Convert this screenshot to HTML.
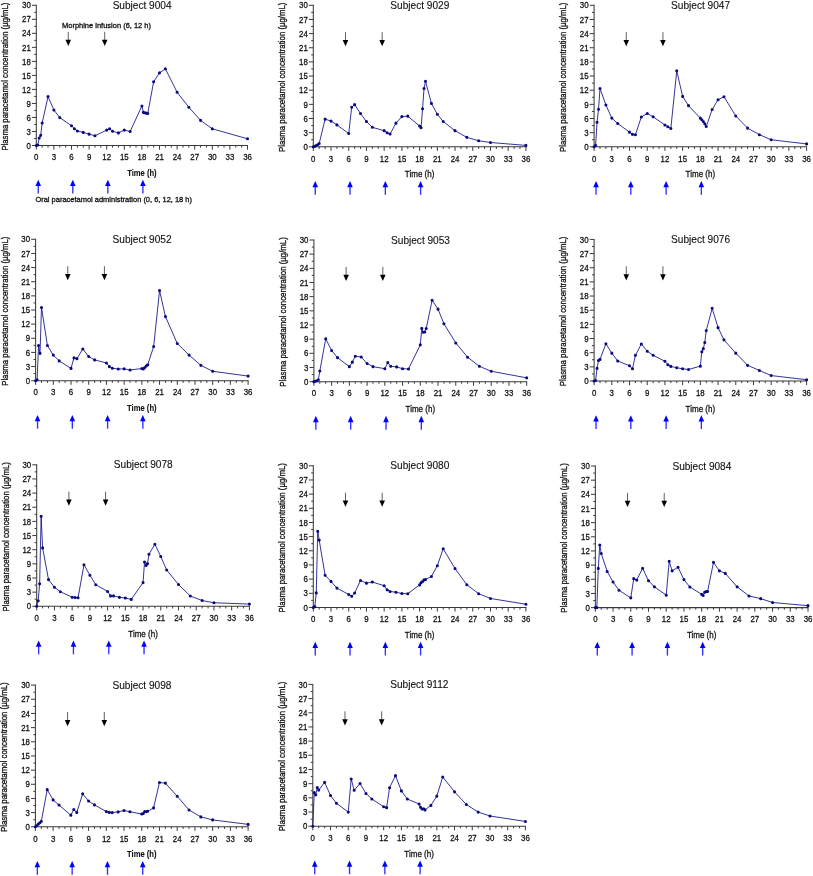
<!DOCTYPE html>
<html><head><meta charset="utf-8"><title>Plasma paracetamol concentration</title>
<style>
html,body{margin:0;padding:0;background:#fff;}
body{width:813px;height:876px;overflow:hidden;}
svg{display:block;will-change:transform;}
text{font-family:"Liberation Sans",sans-serif;fill:#111;stroke:#111;stroke-width:0.22px;}
.tk{font-size:9.6px;stroke-width:0.3px;}
.tm{font-size:9.7px;stroke-width:0.3px;}
.tb{font-weight:bold;stroke-width:0.1px;}
.ti{font-size:10.1px;stroke-width:0.12px;}
.yl{font-size:8.9px;stroke-width:0.3px;}
.an{font-size:7.5px;stroke-width:0.3px;}
</style></head><body>
<svg width="813" height="876" viewBox="0 0 813 876">
<rect width="813" height="876" fill="#fff"/>
<g>
<path d="M36.3 4.8V145.5H248" fill="none" stroke="#3a3a3a" stroke-width="1.05"/>
<path d="M36.3 145.5v4.1M42.17 145.5v2.1M48.03 145.5v2.1M53.9 145.5v4.1M59.77 145.5v2.1M65.63 145.5v2.1M71.5 145.5v4.1M77.37 145.5v2.1M83.23 145.5v2.1M89.1 145.5v4.1M94.97 145.5v2.1M100.83 145.5v2.1M106.7 145.5v4.1M112.57 145.5v2.1M118.43 145.5v2.1M124.3 145.5v4.1M130.17 145.5v2.1M136.03 145.5v2.1M141.9 145.5v4.1M147.77 145.5v2.1M153.63 145.5v2.1M159.5 145.5v4.1M165.37 145.5v2.1M171.23 145.5v2.1M177.1 145.5v4.1M182.97 145.5v2.1M188.83 145.5v2.1M194.7 145.5v4.1M200.57 145.5v2.1M206.43 145.5v2.1M212.3 145.5v4.1M218.17 145.5v2.1M224.03 145.5v2.1M229.9 145.5v4.1M235.77 145.5v2.1M241.63 145.5v2.1M247.5 145.5v4.1M36.3 145.5h-4.4M36.3 138.49h-2.1M36.3 131.48h-4.4M36.3 124.47h-2.1M36.3 117.46h-4.4M36.3 110.45h-2.1M36.3 103.44h-4.4M36.3 96.43h-2.1M36.3 89.42h-4.4M36.3 82.41h-2.1M36.3 75.4h-4.4M36.3 68.39h-2.1M36.3 61.38h-4.4M36.3 54.37h-2.1M36.3 47.36h-4.4M36.3 40.35h-2.1M36.3 33.34h-4.4M36.3 26.33h-2.1M36.3 19.32h-4.4M36.3 12.31h-2.1M36.3 5.3h-4.4" fill="none" stroke="#3a3a3a" stroke-width="1"/>
<text class="tk" text-anchor="end" transform="translate(30.8 148.65) scale(.82 1)">0</text>
<text class="tk" text-anchor="end" transform="translate(30.8 134.63) scale(.82 1)">3</text>
<text class="tk" text-anchor="end" transform="translate(30.8 120.61) scale(.82 1)">6</text>
<text class="tk" text-anchor="end" transform="translate(30.8 106.59) scale(.82 1)">9</text>
<text class="tk" text-anchor="end" transform="translate(30.8 92.57) scale(.82 1)">12</text>
<text class="tk" text-anchor="end" transform="translate(30.8 78.55) scale(.82 1)">15</text>
<text class="tk" text-anchor="end" transform="translate(30.8 64.53) scale(.82 1)">18</text>
<text class="tk" text-anchor="end" transform="translate(30.8 50.51) scale(.82 1)">21</text>
<text class="tk" text-anchor="end" transform="translate(30.8 36.49) scale(.82 1)">24</text>
<text class="tk" text-anchor="end" transform="translate(30.8 22.47) scale(.82 1)">27</text>
<text class="tk" text-anchor="end" transform="translate(30.8 8.45) scale(.82 1)">30</text>
<text class="tk" text-anchor="middle" transform="translate(36.3 160.2) scale(.82 1)">0</text>
<text class="tk" text-anchor="middle" transform="translate(53.9 160.2) scale(.82 1)">3</text>
<text class="tk" text-anchor="middle" transform="translate(71.5 160.2) scale(.82 1)">6</text>
<text class="tk" text-anchor="middle" transform="translate(89.1 160.2) scale(.82 1)">9</text>
<text class="tk" text-anchor="middle" transform="translate(106.7 160.2) scale(.82 1)">12</text>
<text class="tk" text-anchor="middle" transform="translate(124.3 160.2) scale(.82 1)">15</text>
<text class="tk" text-anchor="middle" transform="translate(141.9 160.2) scale(.82 1)">18</text>
<text class="tk" text-anchor="middle" transform="translate(159.5 160.2) scale(.82 1)">21</text>
<text class="tk" text-anchor="middle" transform="translate(177.1 160.2) scale(.82 1)">24</text>
<text class="tk" text-anchor="middle" transform="translate(194.7 160.2) scale(.82 1)">27</text>
<text class="tk" text-anchor="middle" transform="translate(212.3 160.2) scale(.82 1)">30</text>
<text class="tk" text-anchor="middle" transform="translate(229.9 160.2) scale(.82 1)">33</text>
<text class="tk" text-anchor="middle" transform="translate(247.5 160.2) scale(.82 1)">36</text>
<text class="tm tb" text-anchor="middle" x="141.9" y="176" textLength="29.5" lengthAdjust="spacingAndGlyphs">Time (h)</text>
<text class="ti" text-anchor="middle" x="142.1" y="8.9">Subject 9004</text>
<text class="yl" text-anchor="middle" transform="translate(8.3 76.6) rotate(-90)" textLength="148" lengthAdjust="spacingAndGlyphs">Plasma paracetamol concentration (µg/mL)</text>
<path d="M68.27 31.93V41.89" stroke="#444" stroke-width="0.85" fill="none"/>
<path d="M65.47 39.69L71.07 39.69L68.27 45.89Z" fill="#000"/>
<path d="M104.71 31.93V41.89" stroke="#444" stroke-width="0.85" fill="none"/>
<path d="M101.91 39.69L107.51 39.69L104.71 45.89Z" fill="#000"/>
<path d="M38.24 183.7V193.5" stroke="#3030ff" stroke-width="1.35" fill="none"/>
<path d="M35.44 186L41.04 186L38.24 179.7Z" fill="#0000ff"/>
<path d="M72.79 183.7V193.5" stroke="#3030ff" stroke-width="1.35" fill="none"/>
<path d="M69.99 186L75.59 186L72.79 179.7Z" fill="#0000ff"/>
<path d="M107.87 183.7V193.5" stroke="#3030ff" stroke-width="1.35" fill="none"/>
<path d="M105.07 186L110.67 186L107.87 179.7Z" fill="#0000ff"/>
<path d="M142.9 183.7V193.5" stroke="#3030ff" stroke-width="1.35" fill="none"/>
<path d="M140.1 186L145.7 186L142.9 179.7Z" fill="#0000ff"/>
<text class="an" x="62" y="27.6" textLength="89" lengthAdjust="spacingAndGlyphs">Morphine infusion (6, 12 h)</text>
<text class="an" x="35.4" y="201.5" textLength="156.6" lengthAdjust="spacingAndGlyphs">Oral paracetamol administration (0, 6, 12, 18 h)</text>
<polyline points="36.3,145.5 37.77,145.03 39.23,137.93 40.7,135.36 42.17,123.07 48.03,96.57 53.9,109.98 59.77,117.6 71.5,125.73 74.43,128.68 77.37,131.01 83.23,132.41 89.1,134.14 94.97,135.73 106.7,130.08 109.63,128.82 112.57,131.29 118.43,132.88 124.3,130.08 130.17,131.48 141.9,105.96 143.37,112.37 144.83,112.79 146.3,113.16 147.77,113.49 153.63,81.8 159.5,72.83 165.37,68.86 177.1,92.22 188.83,107.23 200.57,120.36 212.3,128.86 247.5,138.77" fill="none" stroke="#0f0f85" stroke-width="0.85" stroke-linejoin="round"/>
<path d="M36.3 145.5h0M37.77 145.03h0M39.23 137.93h0M40.7 135.36h0M42.17 123.07h0M48.03 96.57h0M53.9 109.98h0M59.77 117.6h0M71.5 125.73h0M74.43 128.68h0M77.37 131.01h0M83.23 132.41h0M89.1 134.14h0M94.97 135.73h0M106.7 130.08h0M109.63 128.82h0M112.57 131.29h0M118.43 132.88h0M124.3 130.08h0M130.17 131.48h0M141.9 105.96h0M143.37 112.37h0M144.83 112.79h0M146.3 113.16h0M147.77 113.49h0M153.63 81.8h0M159.5 72.83h0M165.37 68.86h0M177.1 92.22h0M188.83 107.23h0M200.57 120.36h0M212.3 128.86h0M247.5 138.77h0" fill="none" stroke="#0a0a80" stroke-width="3.1" stroke-linecap="round"/>
</g>
<g>
<path d="M313.3 4.8V146.8H526.4" fill="none" stroke="#3a3a3a" stroke-width="1.05"/>
<path d="M313.3 146.8v4.1M319.21 146.8v2.1M325.11 146.8v2.1M331.02 146.8v4.1M336.92 146.8v2.1M342.83 146.8v2.1M348.73 146.8v4.1M354.64 146.8v2.1M360.54 146.8v2.1M366.45 146.8v4.1M372.36 146.8v2.1M378.26 146.8v2.1M384.17 146.8v4.1M390.07 146.8v2.1M395.98 146.8v2.1M401.88 146.8v4.1M407.79 146.8v2.1M413.69 146.8v2.1M419.6 146.8v4.1M425.51 146.8v2.1M431.41 146.8v2.1M437.32 146.8v4.1M443.22 146.8v2.1M449.13 146.8v2.1M455.03 146.8v4.1M460.94 146.8v2.1M466.84 146.8v2.1M472.75 146.8v4.1M478.66 146.8v2.1M484.56 146.8v2.1M490.47 146.8v4.1M496.37 146.8v2.1M502.28 146.8v2.1M508.18 146.8v4.1M514.09 146.8v2.1M519.99 146.8v2.1M525.9 146.8v4.1M313.3 146.8h-4.4M313.3 139.73h-2.1M313.3 132.65h-4.4M313.3 125.58h-2.1M313.3 118.5h-4.4M313.3 111.43h-2.1M313.3 104.35h-4.4M313.3 97.28h-2.1M313.3 90.2h-4.4M313.3 83.12h-2.1M313.3 76.05h-4.4M313.3 68.98h-2.1M313.3 61.9h-4.4M313.3 54.83h-2.1M313.3 47.75h-4.4M313.3 40.68h-2.1M313.3 33.6h-4.4M313.3 26.53h-2.1M313.3 19.45h-4.4M313.3 12.38h-2.1M313.3 5.3h-4.4" fill="none" stroke="#3a3a3a" stroke-width="1"/>
<text class="tk" text-anchor="end" transform="translate(307.8 149.95) scale(.82 1)">0</text>
<text class="tk" text-anchor="end" transform="translate(307.8 135.8) scale(.82 1)">3</text>
<text class="tk" text-anchor="end" transform="translate(307.8 121.65) scale(.82 1)">6</text>
<text class="tk" text-anchor="end" transform="translate(307.8 107.5) scale(.82 1)">9</text>
<text class="tk" text-anchor="end" transform="translate(307.8 93.35) scale(.82 1)">12</text>
<text class="tk" text-anchor="end" transform="translate(307.8 79.2) scale(.82 1)">15</text>
<text class="tk" text-anchor="end" transform="translate(307.8 65.05) scale(.82 1)">18</text>
<text class="tk" text-anchor="end" transform="translate(307.8 50.9) scale(.82 1)">21</text>
<text class="tk" text-anchor="end" transform="translate(307.8 36.75) scale(.82 1)">24</text>
<text class="tk" text-anchor="end" transform="translate(307.8 22.6) scale(.82 1)">27</text>
<text class="tk" text-anchor="end" transform="translate(307.8 8.45) scale(.82 1)">30</text>
<text class="tk" text-anchor="middle" transform="translate(313.3 161.5) scale(.82 1)">0</text>
<text class="tk" text-anchor="middle" transform="translate(331.02 161.5) scale(.82 1)">3</text>
<text class="tk" text-anchor="middle" transform="translate(348.73 161.5) scale(.82 1)">6</text>
<text class="tk" text-anchor="middle" transform="translate(366.45 161.5) scale(.82 1)">9</text>
<text class="tk" text-anchor="middle" transform="translate(384.17 161.5) scale(.82 1)">12</text>
<text class="tk" text-anchor="middle" transform="translate(401.88 161.5) scale(.82 1)">15</text>
<text class="tk" text-anchor="middle" transform="translate(419.6 161.5) scale(.82 1)">18</text>
<text class="tk" text-anchor="middle" transform="translate(437.32 161.5) scale(.82 1)">21</text>
<text class="tk" text-anchor="middle" transform="translate(455.03 161.5) scale(.82 1)">24</text>
<text class="tk" text-anchor="middle" transform="translate(472.75 161.5) scale(.82 1)">27</text>
<text class="tk" text-anchor="middle" transform="translate(490.47 161.5) scale(.82 1)">30</text>
<text class="tk" text-anchor="middle" transform="translate(508.18 161.5) scale(.82 1)">33</text>
<text class="tk" text-anchor="middle" transform="translate(525.9 161.5) scale(.82 1)">36</text>
<text class="tm" text-anchor="middle" x="419.6" y="177.3" textLength="29.5" lengthAdjust="spacingAndGlyphs">Time (h)</text>
<text class="ti" text-anchor="middle" x="419.8" y="8.9">Subject 9029</text>
<text class="yl" text-anchor="middle" transform="translate(285.3 77.25) rotate(-90)" textLength="149.37" lengthAdjust="spacingAndGlyphs">Plasma paracetamol concentration (µg/mL)</text>
<path d="M345.49 32.18V42.27" stroke="#444" stroke-width="0.85" fill="none"/>
<path d="M342.69 40.07L348.29 40.07L345.49 46.27Z" fill="#000"/>
<path d="M382.16 32.18V42.27" stroke="#444" stroke-width="0.85" fill="none"/>
<path d="M379.36 40.07L384.96 40.07L382.16 46.27Z" fill="#000"/>
<path d="M315.25 185V194.8" stroke="#3030ff" stroke-width="1.35" fill="none"/>
<path d="M312.45 187.3L318.05 187.3L315.25 181Z" fill="#0000ff"/>
<path d="M350.03 185V194.8" stroke="#3030ff" stroke-width="1.35" fill="none"/>
<path d="M347.23 187.3L352.83 187.3L350.03 181Z" fill="#0000ff"/>
<path d="M385.35 185V194.8" stroke="#3030ff" stroke-width="1.35" fill="none"/>
<path d="M382.55 187.3L388.15 187.3L385.35 181Z" fill="#0000ff"/>
<path d="M420.6 185V194.8" stroke="#3030ff" stroke-width="1.35" fill="none"/>
<path d="M417.8 187.3L423.4 187.3L420.6 181Z" fill="#0000ff"/>
<polyline points="313.3,146.8 314.78,146.33 316.25,145.62 317.73,144.68 319.21,143.5 325.11,119.16 331.02,121.09 336.92,124.91 348.73,133.55 351.69,107.18 354.64,104.63 360.54,113.55 366.45,121.57 372.36,127.32 384.17,130.67 387.12,132.74 390.07,134.02 395.98,123.17 401.88,116.61 407.79,116.14 419.6,126.05 421.08,127.79 422.55,108.78 424.03,88.5 425.51,81.24 431.41,103.41 437.32,114.26 443.22,121.57 455.03,130.67 466.84,137.37 478.66,140.72 490.47,142.51 525.9,145.39" fill="none" stroke="#0f0f85" stroke-width="0.85" stroke-linejoin="round"/>
<path d="M313.3 146.8h0M314.78 146.33h0M316.25 145.62h0M317.73 144.68h0M319.21 143.5h0M325.11 119.16h0M331.02 121.09h0M336.92 124.91h0M348.73 133.55h0M351.69 107.18h0M354.64 104.63h0M360.54 113.55h0M366.45 121.57h0M372.36 127.32h0M384.17 130.67h0M387.12 132.74h0M390.07 134.02h0M395.98 123.17h0M401.88 116.61h0M407.79 116.14h0M419.6 126.05h0M421.08 127.79h0M422.55 108.78h0M424.03 88.5h0M425.51 81.24h0M431.41 103.41h0M437.32 114.26h0M443.22 121.57h0M455.03 130.67h0M466.84 137.37h0M478.66 140.72h0M490.47 142.51h0M525.9 145.39h0" fill="none" stroke="#0a0a80" stroke-width="3.1" stroke-linecap="round"/>
</g>
<g>
<path d="M594.1 4.8V146.8H807.1" fill="none" stroke="#3a3a3a" stroke-width="1.05"/>
<path d="M594.1 146.8v4.1M600 146.8v2.1M605.91 146.8v2.1M611.81 146.8v4.1M617.71 146.8v2.1M623.61 146.8v2.1M629.52 146.8v4.1M635.42 146.8v2.1M641.32 146.8v2.1M647.23 146.8v4.1M653.13 146.8v2.1M659.03 146.8v2.1M664.93 146.8v4.1M670.84 146.8v2.1M676.74 146.8v2.1M682.64 146.8v4.1M688.54 146.8v2.1M694.45 146.8v2.1M700.35 146.8v4.1M706.25 146.8v2.1M712.16 146.8v2.1M718.06 146.8v4.1M723.96 146.8v2.1M729.86 146.8v2.1M735.77 146.8v4.1M741.67 146.8v2.1M747.57 146.8v2.1M753.48 146.8v4.1M759.38 146.8v2.1M765.28 146.8v2.1M771.18 146.8v4.1M777.09 146.8v2.1M782.99 146.8v2.1M788.89 146.8v4.1M794.79 146.8v2.1M800.7 146.8v2.1M806.6 146.8v4.1M594.1 146.8h-4.4M594.1 139.73h-2.1M594.1 132.65h-4.4M594.1 125.58h-2.1M594.1 118.5h-4.4M594.1 111.43h-2.1M594.1 104.35h-4.4M594.1 97.28h-2.1M594.1 90.2h-4.4M594.1 83.12h-2.1M594.1 76.05h-4.4M594.1 68.98h-2.1M594.1 61.9h-4.4M594.1 54.83h-2.1M594.1 47.75h-4.4M594.1 40.68h-2.1M594.1 33.6h-4.4M594.1 26.53h-2.1M594.1 19.45h-4.4M594.1 12.38h-2.1M594.1 5.3h-4.4" fill="none" stroke="#3a3a3a" stroke-width="1"/>
<text class="tk" text-anchor="end" transform="translate(588.6 149.95) scale(.82 1)">0</text>
<text class="tk" text-anchor="end" transform="translate(588.6 135.8) scale(.82 1)">3</text>
<text class="tk" text-anchor="end" transform="translate(588.6 121.65) scale(.82 1)">6</text>
<text class="tk" text-anchor="end" transform="translate(588.6 107.5) scale(.82 1)">9</text>
<text class="tk" text-anchor="end" transform="translate(588.6 93.35) scale(.82 1)">12</text>
<text class="tk" text-anchor="end" transform="translate(588.6 79.2) scale(.82 1)">15</text>
<text class="tk" text-anchor="end" transform="translate(588.6 65.05) scale(.82 1)">18</text>
<text class="tk" text-anchor="end" transform="translate(588.6 50.9) scale(.82 1)">21</text>
<text class="tk" text-anchor="end" transform="translate(588.6 36.75) scale(.82 1)">24</text>
<text class="tk" text-anchor="end" transform="translate(588.6 22.6) scale(.82 1)">27</text>
<text class="tk" text-anchor="end" transform="translate(588.6 8.45) scale(.82 1)">30</text>
<text class="tk" text-anchor="middle" transform="translate(594.1 161.5) scale(.82 1)">0</text>
<text class="tk" text-anchor="middle" transform="translate(611.81 161.5) scale(.82 1)">3</text>
<text class="tk" text-anchor="middle" transform="translate(629.52 161.5) scale(.82 1)">6</text>
<text class="tk" text-anchor="middle" transform="translate(647.23 161.5) scale(.82 1)">9</text>
<text class="tk" text-anchor="middle" transform="translate(664.93 161.5) scale(.82 1)">12</text>
<text class="tk" text-anchor="middle" transform="translate(682.64 161.5) scale(.82 1)">15</text>
<text class="tk" text-anchor="middle" transform="translate(700.35 161.5) scale(.82 1)">18</text>
<text class="tk" text-anchor="middle" transform="translate(718.06 161.5) scale(.82 1)">21</text>
<text class="tk" text-anchor="middle" transform="translate(735.77 161.5) scale(.82 1)">24</text>
<text class="tk" text-anchor="middle" transform="translate(753.48 161.5) scale(.82 1)">27</text>
<text class="tk" text-anchor="middle" transform="translate(771.18 161.5) scale(.82 1)">30</text>
<text class="tk" text-anchor="middle" transform="translate(788.89 161.5) scale(.82 1)">33</text>
<text class="tk" text-anchor="middle" transform="translate(806.6 161.5) scale(.82 1)">36</text>
<text class="tm" text-anchor="middle" x="700.35" y="177.3" textLength="29.5" lengthAdjust="spacingAndGlyphs">Time (h)</text>
<text class="ti" text-anchor="middle" x="700.55" y="8.9">Subject 9047</text>
<text class="yl" text-anchor="middle" transform="translate(566.1 77.25) rotate(-90)" textLength="149.37" lengthAdjust="spacingAndGlyphs">Plasma paracetamol concentration (µg/mL)</text>
<path d="M626.27 32.18V42.27" stroke="#444" stroke-width="0.85" fill="none"/>
<path d="M623.47 40.07L629.07 40.07L626.27 46.27Z" fill="#000"/>
<path d="M662.93 32.18V42.27" stroke="#444" stroke-width="0.85" fill="none"/>
<path d="M660.13 40.07L665.73 40.07L662.93 46.27Z" fill="#000"/>
<path d="M596.05 185V194.8" stroke="#3030ff" stroke-width="1.35" fill="none"/>
<path d="M593.25 187.3L598.85 187.3L596.05 181Z" fill="#0000ff"/>
<path d="M630.82 185V194.8" stroke="#3030ff" stroke-width="1.35" fill="none"/>
<path d="M628.02 187.3L633.62 187.3L630.82 181Z" fill="#0000ff"/>
<path d="M666.11 185V194.8" stroke="#3030ff" stroke-width="1.35" fill="none"/>
<path d="M663.31 187.3L668.91 187.3L666.11 181Z" fill="#0000ff"/>
<path d="M701.35 185V194.8" stroke="#3030ff" stroke-width="1.35" fill="none"/>
<path d="M698.55 187.3L704.15 187.3L701.35 181Z" fill="#0000ff"/>
<polyline points="594.1,146.8 595.58,145.39 597.05,122.27 598.53,109.3 600,88.55 605.91,105.01 611.81,118.08 617.71,123.5 629.52,132.13 632.47,134.35 635.42,134.68 641.32,116.99 647.23,113.45 653.13,116.8 664.93,124.96 667.88,126.71 670.84,128.45 676.74,70.86 682.64,96.38 688.54,105.67 700.35,118.17 701.83,119.68 703.3,121.57 704.78,123.83 706.25,126.52 712.16,109.49 718.06,99.73 723.96,96.71 735.77,116 747.57,128.12 759.38,134.68 771.18,139.77 806.6,143.92" fill="none" stroke="#0f0f85" stroke-width="0.85" stroke-linejoin="round"/>
<path d="M594.1 146.8h0M595.58 145.39h0M597.05 122.27h0M598.53 109.3h0M600 88.55h0M605.91 105.01h0M611.81 118.08h0M617.71 123.5h0M629.52 132.13h0M632.47 134.35h0M635.42 134.68h0M641.32 116.99h0M647.23 113.45h0M653.13 116.8h0M664.93 124.96h0M667.88 126.71h0M670.84 128.45h0M676.74 70.86h0M682.64 96.38h0M688.54 105.67h0M700.35 118.17h0M701.83 119.68h0M703.3 121.57h0M704.78 123.83h0M706.25 126.52h0M712.16 109.49h0M718.06 99.73h0M723.96 96.71h0M735.77 116h0M747.57 128.12h0M759.38 134.68h0M771.18 139.77h0M806.6 143.92h0" fill="none" stroke="#0a0a80" stroke-width="3.1" stroke-linecap="round"/>
</g>
<g>
<path d="M35.6 238.8V380.7H248.6" fill="none" stroke="#3a3a3a" stroke-width="1.05"/>
<path d="M35.6 380.7v4.1M41.5 380.7v2.1M47.41 380.7v2.1M53.31 380.7v4.1M59.21 380.7v2.1M65.11 380.7v2.1M71.02 380.7v4.1M76.92 380.7v2.1M82.82 380.7v2.1M88.72 380.7v4.1M94.63 380.7v2.1M100.53 380.7v2.1M106.43 380.7v4.1M112.34 380.7v2.1M118.24 380.7v2.1M124.14 380.7v4.1M130.04 380.7v2.1M135.95 380.7v2.1M141.85 380.7v4.1M147.75 380.7v2.1M153.66 380.7v2.1M159.56 380.7v4.1M165.46 380.7v2.1M171.36 380.7v2.1M177.27 380.7v4.1M183.17 380.7v2.1M189.07 380.7v2.1M194.97 380.7v4.1M200.88 380.7v2.1M206.78 380.7v2.1M212.68 380.7v4.1M218.59 380.7v2.1M224.49 380.7v2.1M230.39 380.7v4.1M236.29 380.7v2.1M242.2 380.7v2.1M248.1 380.7v4.1M35.6 380.7h-4.4M35.6 373.63h-2.1M35.6 366.56h-4.4M35.6 359.49h-2.1M35.6 352.42h-4.4M35.6 345.35h-2.1M35.6 338.28h-4.4M35.6 331.21h-2.1M35.6 324.14h-4.4M35.6 317.07h-2.1M35.6 310h-4.4M35.6 302.93h-2.1M35.6 295.86h-4.4M35.6 288.79h-2.1M35.6 281.72h-4.4M35.6 274.65h-2.1M35.6 267.58h-4.4M35.6 260.51h-2.1M35.6 253.44h-4.4M35.6 246.37h-2.1M35.6 239.3h-4.4" fill="none" stroke="#3a3a3a" stroke-width="1"/>
<text class="tk" text-anchor="end" transform="translate(30.1 383.85) scale(.82 1)">0</text>
<text class="tk" text-anchor="end" transform="translate(30.1 369.71) scale(.82 1)">3</text>
<text class="tk" text-anchor="end" transform="translate(30.1 355.57) scale(.82 1)">6</text>
<text class="tk" text-anchor="end" transform="translate(30.1 341.43) scale(.82 1)">9</text>
<text class="tk" text-anchor="end" transform="translate(30.1 327.29) scale(.82 1)">12</text>
<text class="tk" text-anchor="end" transform="translate(30.1 313.15) scale(.82 1)">15</text>
<text class="tk" text-anchor="end" transform="translate(30.1 299.01) scale(.82 1)">18</text>
<text class="tk" text-anchor="end" transform="translate(30.1 284.87) scale(.82 1)">21</text>
<text class="tk" text-anchor="end" transform="translate(30.1 270.73) scale(.82 1)">24</text>
<text class="tk" text-anchor="end" transform="translate(30.1 256.59) scale(.82 1)">27</text>
<text class="tk" text-anchor="end" transform="translate(30.1 242.45) scale(.82 1)">30</text>
<text class="tk" text-anchor="middle" transform="translate(35.6 395.4) scale(.82 1)">0</text>
<text class="tk" text-anchor="middle" transform="translate(53.31 395.4) scale(.82 1)">3</text>
<text class="tk" text-anchor="middle" transform="translate(71.02 395.4) scale(.82 1)">6</text>
<text class="tk" text-anchor="middle" transform="translate(88.72 395.4) scale(.82 1)">9</text>
<text class="tk" text-anchor="middle" transform="translate(106.43 395.4) scale(.82 1)">12</text>
<text class="tk" text-anchor="middle" transform="translate(124.14 395.4) scale(.82 1)">15</text>
<text class="tk" text-anchor="middle" transform="translate(141.85 395.4) scale(.82 1)">18</text>
<text class="tk" text-anchor="middle" transform="translate(159.56 395.4) scale(.82 1)">21</text>
<text class="tk" text-anchor="middle" transform="translate(177.27 395.4) scale(.82 1)">24</text>
<text class="tk" text-anchor="middle" transform="translate(194.97 395.4) scale(.82 1)">27</text>
<text class="tk" text-anchor="middle" transform="translate(212.68 395.4) scale(.82 1)">30</text>
<text class="tk" text-anchor="middle" transform="translate(230.39 395.4) scale(.82 1)">33</text>
<text class="tk" text-anchor="middle" transform="translate(248.1 395.4) scale(.82 1)">36</text>
<text class="tm tb" text-anchor="middle" x="141.85" y="411.2" textLength="29.5" lengthAdjust="spacingAndGlyphs">Time (h)</text>
<text class="ti" text-anchor="middle" x="142.05" y="242.9">Subject 9052</text>
<text class="yl" text-anchor="middle" transform="translate(7.6 311.2) rotate(-90)" textLength="149.27" lengthAdjust="spacingAndGlyphs">Plasma paracetamol concentration (µg/mL)</text>
<path d="M67.77 266.16V276.24" stroke="#444" stroke-width="0.85" fill="none"/>
<path d="M64.97 274.04L70.57 274.04L67.77 280.24Z" fill="#000"/>
<path d="M104.43 266.16V276.24" stroke="#444" stroke-width="0.85" fill="none"/>
<path d="M101.63 274.04L107.23 274.04L104.43 280.24Z" fill="#000"/>
<path d="M37.55 418.9V428.7" stroke="#3030ff" stroke-width="1.35" fill="none"/>
<path d="M34.75 421.2L40.35 421.2L37.55 414.9Z" fill="#0000ff"/>
<path d="M72.32 418.9V428.7" stroke="#3030ff" stroke-width="1.35" fill="none"/>
<path d="M69.52 421.2L75.12 421.2L72.32 414.9Z" fill="#0000ff"/>
<path d="M107.61 418.9V428.7" stroke="#3030ff" stroke-width="1.35" fill="none"/>
<path d="M104.81 421.2L110.41 421.2L107.61 414.9Z" fill="#0000ff"/>
<path d="M142.85 418.9V428.7" stroke="#3030ff" stroke-width="1.35" fill="none"/>
<path d="M140.05 421.2L145.65 421.2L142.85 414.9Z" fill="#0000ff"/>
<polyline points="35.6,380.7 37.08,379.76 38.55,345.54 40.03,353.36 41.5,307.45 47.41,345.54 53.31,355.11 59.21,360.9 71.02,368.4 73.97,357.84 76.92,358.64 82.82,349.03 88.72,356.57 94.63,359.91 106.43,362.93 109.38,366.65 112.34,368.21 118.24,369.01 124.14,368.87 130.04,370 141.85,368.54 143.33,368.92 144.8,367.5 146.28,365.99 147.75,364.77 153.66,346.48 159.56,290.53 165.46,316.6 177.27,343.46 189.07,355.11 200.88,365.33 212.68,371.27 248.1,376.08" fill="none" stroke="#0f0f85" stroke-width="0.85" stroke-linejoin="round"/>
<path d="M35.6 380.7h0M37.08 379.76h0M38.55 345.54h0M40.03 353.36h0M41.5 307.45h0M47.41 345.54h0M53.31 355.11h0M59.21 360.9h0M71.02 368.4h0M73.97 357.84h0M76.92 358.64h0M82.82 349.03h0M88.72 356.57h0M94.63 359.91h0M106.43 362.93h0M109.38 366.65h0M112.34 368.21h0M118.24 369.01h0M124.14 368.87h0M130.04 370h0M141.85 368.54h0M143.33 368.92h0M144.8 367.5h0M146.28 365.99h0M147.75 364.77h0M153.66 346.48h0M159.56 290.53h0M165.46 316.6h0M177.27 343.46h0M189.07 355.11h0M200.88 365.33h0M212.68 371.27h0M248.1 376.08h0" fill="none" stroke="#0a0a80" stroke-width="3.1" stroke-linecap="round"/>
</g>
<g>
<path d="M313.9 239.5V381.65H527.2" fill="none" stroke="#3a3a3a" stroke-width="1.05"/>
<path d="M313.9 381.65v4.1M319.81 381.65v2.1M325.72 381.65v2.1M331.63 381.65v4.1M337.54 381.65v2.1M343.46 381.65v2.1M349.37 381.65v4.1M355.28 381.65v2.1M361.19 381.65v2.1M367.1 381.65v4.1M373.01 381.65v2.1M378.92 381.65v2.1M384.83 381.65v4.1M390.74 381.65v2.1M396.66 381.65v2.1M402.57 381.65v4.1M408.48 381.65v2.1M414.39 381.65v2.1M420.3 381.65v4.1M426.21 381.65v2.1M432.12 381.65v2.1M438.03 381.65v4.1M443.94 381.65v2.1M449.86 381.65v2.1M455.77 381.65v4.1M461.68 381.65v2.1M467.59 381.65v2.1M473.5 381.65v4.1M479.41 381.65v2.1M485.32 381.65v2.1M491.23 381.65v4.1M497.14 381.65v2.1M503.06 381.65v2.1M508.97 381.65v4.1M514.88 381.65v2.1M520.79 381.65v2.1M526.7 381.65v4.1M313.9 381.65h-4.4M313.9 374.57h-2.1M313.9 367.48h-4.4M313.9 360.4h-2.1M313.9 353.32h-4.4M313.9 346.24h-2.1M313.9 339.15h-4.4M313.9 332.07h-2.1M313.9 324.99h-4.4M313.9 317.91h-2.1M313.9 310.82h-4.4M313.9 303.74h-2.1M313.9 296.66h-4.4M313.9 289.58h-2.1M313.9 282.5h-4.4M313.9 275.41h-2.1M313.9 268.33h-4.4M313.9 261.25h-2.1M313.9 254.17h-4.4M313.9 247.08h-2.1M313.9 240h-4.4" fill="none" stroke="#3a3a3a" stroke-width="1"/>
<text class="tk" text-anchor="end" transform="translate(308.4 384.8) scale(.82 1)">0</text>
<text class="tk" text-anchor="end" transform="translate(308.4 370.63) scale(.82 1)">3</text>
<text class="tk" text-anchor="end" transform="translate(308.4 356.47) scale(.82 1)">6</text>
<text class="tk" text-anchor="end" transform="translate(308.4 342.3) scale(.82 1)">9</text>
<text class="tk" text-anchor="end" transform="translate(308.4 328.14) scale(.82 1)">12</text>
<text class="tk" text-anchor="end" transform="translate(308.4 313.97) scale(.82 1)">15</text>
<text class="tk" text-anchor="end" transform="translate(308.4 299.81) scale(.82 1)">18</text>
<text class="tk" text-anchor="end" transform="translate(308.4 285.64) scale(.82 1)">21</text>
<text class="tk" text-anchor="end" transform="translate(308.4 271.48) scale(.82 1)">24</text>
<text class="tk" text-anchor="end" transform="translate(308.4 257.31) scale(.82 1)">27</text>
<text class="tk" text-anchor="end" transform="translate(308.4 243.15) scale(.82 1)">30</text>
<text class="tk" text-anchor="middle" transform="translate(313.9 396.35) scale(.82 1)">0</text>
<text class="tk" text-anchor="middle" transform="translate(331.63 396.35) scale(.82 1)">3</text>
<text class="tk" text-anchor="middle" transform="translate(349.37 396.35) scale(.82 1)">6</text>
<text class="tk" text-anchor="middle" transform="translate(367.1 396.35) scale(.82 1)">9</text>
<text class="tk" text-anchor="middle" transform="translate(384.83 396.35) scale(.82 1)">12</text>
<text class="tk" text-anchor="middle" transform="translate(402.57 396.35) scale(.82 1)">15</text>
<text class="tk" text-anchor="middle" transform="translate(420.3 396.35) scale(.82 1)">18</text>
<text class="tk" text-anchor="middle" transform="translate(438.03 396.35) scale(.82 1)">21</text>
<text class="tk" text-anchor="middle" transform="translate(455.77 396.35) scale(.82 1)">24</text>
<text class="tk" text-anchor="middle" transform="translate(473.5 396.35) scale(.82 1)">27</text>
<text class="tk" text-anchor="middle" transform="translate(491.23 396.35) scale(.82 1)">30</text>
<text class="tk" text-anchor="middle" transform="translate(508.97 396.35) scale(.82 1)">33</text>
<text class="tk" text-anchor="middle" transform="translate(526.7 396.35) scale(.82 1)">36</text>
<text class="tm" text-anchor="middle" x="420.3" y="412.15" textLength="29.5" lengthAdjust="spacingAndGlyphs">Time (h)</text>
<text class="ti" text-anchor="middle" x="420.5" y="243.6">Subject 9053</text>
<text class="yl" text-anchor="middle" transform="translate(285.9 312.02) rotate(-90)" textLength="149.53" lengthAdjust="spacingAndGlyphs">Plasma paracetamol concentration (µg/mL)</text>
<path d="M346.12 266.91V277.01" stroke="#444" stroke-width="0.85" fill="none"/>
<path d="M343.32 274.81L348.92 274.81L346.12 281.01Z" fill="#000"/>
<path d="M382.82 266.91V277.01" stroke="#444" stroke-width="0.85" fill="none"/>
<path d="M380.02 274.81L385.62 274.81L382.82 281.01Z" fill="#000"/>
<path d="M315.85 419.85V429.65" stroke="#3030ff" stroke-width="1.35" fill="none"/>
<path d="M313.05 422.15L318.65 422.15L315.85 415.85Z" fill="#0000ff"/>
<path d="M350.67 419.85V429.65" stroke="#3030ff" stroke-width="1.35" fill="none"/>
<path d="M347.87 422.15L353.47 422.15L350.67 415.85Z" fill="#0000ff"/>
<path d="M386.02 419.85V429.65" stroke="#3030ff" stroke-width="1.35" fill="none"/>
<path d="M383.22 422.15L388.82 422.15L386.02 415.85Z" fill="#0000ff"/>
<path d="M421.3 419.85V429.65" stroke="#3030ff" stroke-width="1.35" fill="none"/>
<path d="M418.5 422.15L424.1 422.15L421.3 415.85Z" fill="#0000ff"/>
<polyline points="313.9,381.65 315.38,381.18 316.86,380.71 318.33,379.76 319.81,371.07 325.72,338.78 331.63,350.49 337.54,357.66 349.37,366.64 352.32,362.15 355.28,356.2 361.19,357 367.1,363.57 373.01,366.64 384.83,368.71 387.79,362.62 390.74,366.3 396.66,366.92 402.57,368.71 408.48,369 420.3,344.87 421.78,328.39 423.26,332.21 424.73,332.07 426.21,328.53 432.12,300.25 438.03,309.17 443.94,323.76 455.77,342.93 467.59,357.19 479.41,366.3 491.23,371.26 526.7,377.83" fill="none" stroke="#0f0f85" stroke-width="0.85" stroke-linejoin="round"/>
<path d="M313.9 381.65h0M315.38 381.18h0M316.86 380.71h0M318.33 379.76h0M319.81 371.07h0M325.72 338.78h0M331.63 350.49h0M337.54 357.66h0M349.37 366.64h0M352.32 362.15h0M355.28 356.2h0M361.19 357h0M367.1 363.57h0M373.01 366.64h0M384.83 368.71h0M387.79 362.62h0M390.74 366.3h0M396.66 366.92h0M402.57 368.71h0M408.48 369h0M420.3 344.87h0M421.78 328.39h0M423.26 332.21h0M424.73 332.07h0M426.21 328.53h0M432.12 300.25h0M438.03 309.17h0M443.94 323.76h0M455.77 342.93h0M467.59 357.19h0M479.41 366.3h0M491.23 371.26h0M526.7 377.83h0" fill="none" stroke="#0a0a80" stroke-width="3.1" stroke-linecap="round"/>
</g>
<g>
<path d="M594.1 238.9V381H807.1" fill="none" stroke="#3a3a3a" stroke-width="1.05"/>
<path d="M594.1 381v4.1M600 381v2.1M605.91 381v2.1M611.81 381v4.1M617.71 381v2.1M623.61 381v2.1M629.52 381v4.1M635.42 381v2.1M641.32 381v2.1M647.23 381v4.1M653.13 381v2.1M659.03 381v2.1M664.93 381v4.1M670.84 381v2.1M676.74 381v2.1M682.64 381v4.1M688.54 381v2.1M694.45 381v2.1M700.35 381v4.1M706.25 381v2.1M712.16 381v2.1M718.06 381v4.1M723.96 381v2.1M729.86 381v2.1M735.77 381v4.1M741.67 381v2.1M747.57 381v2.1M753.48 381v4.1M759.38 381v2.1M765.28 381v2.1M771.18 381v4.1M777.09 381v2.1M782.99 381v2.1M788.89 381v4.1M794.79 381v2.1M800.7 381v2.1M806.6 381v4.1M594.1 381h-4.4M594.1 373.92h-2.1M594.1 366.84h-4.4M594.1 359.76h-2.1M594.1 352.68h-4.4M594.1 345.6h-2.1M594.1 338.52h-4.4M594.1 331.44h-2.1M594.1 324.36h-4.4M594.1 317.28h-2.1M594.1 310.2h-4.4M594.1 303.12h-2.1M594.1 296.04h-4.4M594.1 288.96h-2.1M594.1 281.88h-4.4M594.1 274.8h-2.1M594.1 267.72h-4.4M594.1 260.64h-2.1M594.1 253.56h-4.4M594.1 246.48h-2.1M594.1 239.4h-4.4" fill="none" stroke="#3a3a3a" stroke-width="1"/>
<text class="tk" text-anchor="end" transform="translate(588.6 384.15) scale(.82 1)">0</text>
<text class="tk" text-anchor="end" transform="translate(588.6 369.99) scale(.82 1)">3</text>
<text class="tk" text-anchor="end" transform="translate(588.6 355.83) scale(.82 1)">6</text>
<text class="tk" text-anchor="end" transform="translate(588.6 341.67) scale(.82 1)">9</text>
<text class="tk" text-anchor="end" transform="translate(588.6 327.51) scale(.82 1)">12</text>
<text class="tk" text-anchor="end" transform="translate(588.6 313.35) scale(.82 1)">15</text>
<text class="tk" text-anchor="end" transform="translate(588.6 299.19) scale(.82 1)">18</text>
<text class="tk" text-anchor="end" transform="translate(588.6 285.03) scale(.82 1)">21</text>
<text class="tk" text-anchor="end" transform="translate(588.6 270.87) scale(.82 1)">24</text>
<text class="tk" text-anchor="end" transform="translate(588.6 256.71) scale(.82 1)">27</text>
<text class="tk" text-anchor="end" transform="translate(588.6 242.55) scale(.82 1)">30</text>
<text class="tk" text-anchor="middle" transform="translate(594.1 395.7) scale(.82 1)">0</text>
<text class="tk" text-anchor="middle" transform="translate(611.81 395.7) scale(.82 1)">3</text>
<text class="tk" text-anchor="middle" transform="translate(629.52 395.7) scale(.82 1)">6</text>
<text class="tk" text-anchor="middle" transform="translate(647.23 395.7) scale(.82 1)">9</text>
<text class="tk" text-anchor="middle" transform="translate(664.93 395.7) scale(.82 1)">12</text>
<text class="tk" text-anchor="middle" transform="translate(682.64 395.7) scale(.82 1)">15</text>
<text class="tk" text-anchor="middle" transform="translate(700.35 395.7) scale(.82 1)">18</text>
<text class="tk" text-anchor="middle" transform="translate(718.06 395.7) scale(.82 1)">21</text>
<text class="tk" text-anchor="middle" transform="translate(735.77 395.7) scale(.82 1)">24</text>
<text class="tk" text-anchor="middle" transform="translate(753.48 395.7) scale(.82 1)">27</text>
<text class="tk" text-anchor="middle" transform="translate(771.18 395.7) scale(.82 1)">30</text>
<text class="tk" text-anchor="middle" transform="translate(788.89 395.7) scale(.82 1)">33</text>
<text class="tk" text-anchor="middle" transform="translate(806.6 395.7) scale(.82 1)">36</text>
<text class="tm" text-anchor="middle" x="700.35" y="411.5" textLength="29.5" lengthAdjust="spacingAndGlyphs">Time (h)</text>
<text class="ti" text-anchor="middle" x="700.55" y="243">Subject 9076</text>
<text class="yl" text-anchor="middle" transform="translate(566.1 311.4) rotate(-90)" textLength="149.48" lengthAdjust="spacingAndGlyphs">Plasma paracetamol concentration (µg/mL)</text>
<path d="M626.27 266.3V276.4" stroke="#444" stroke-width="0.85" fill="none"/>
<path d="M623.47 274.2L629.07 274.2L626.27 280.4Z" fill="#000"/>
<path d="M662.93 266.3V276.4" stroke="#444" stroke-width="0.85" fill="none"/>
<path d="M660.13 274.2L665.73 274.2L662.93 280.4Z" fill="#000"/>
<path d="M596.05 419.2V429" stroke="#3030ff" stroke-width="1.35" fill="none"/>
<path d="M593.25 421.5L598.85 421.5L596.05 415.2Z" fill="#0000ff"/>
<path d="M630.82 419.2V429" stroke="#3030ff" stroke-width="1.35" fill="none"/>
<path d="M628.02 421.5L633.62 421.5L630.82 415.2Z" fill="#0000ff"/>
<path d="M666.11 419.2V429" stroke="#3030ff" stroke-width="1.35" fill="none"/>
<path d="M663.31 421.5L668.91 421.5L666.11 415.2Z" fill="#0000ff"/>
<path d="M701.35 419.2V429" stroke="#3030ff" stroke-width="1.35" fill="none"/>
<path d="M698.55 421.5L704.15 421.5L701.35 415.2Z" fill="#0000ff"/>
<polyline points="594.1,381 595.58,380.53 597.05,368.35 598.53,360.52 600,359.38 605.91,343.71 611.81,353.15 617.71,360.99 629.52,365.8 632.47,368.82 635.42,355.37 641.32,344 647.23,351.22 653.13,355.23 664.93,361.32 667.88,364.81 670.84,366.42 676.74,367.69 682.64,368.82 688.54,369.48 700.35,366.13 701.83,351.74 703.3,348.67 704.78,342.44 706.25,330.59 712.16,308.31 718.06,327.66 723.96,339.84 735.77,353.15 747.57,365.33 759.38,370.43 771.18,375.57 806.6,379.73" fill="none" stroke="#0f0f85" stroke-width="0.85" stroke-linejoin="round"/>
<path d="M594.1 381h0M595.58 380.53h0M597.05 368.35h0M598.53 360.52h0M600 359.38h0M605.91 343.71h0M611.81 353.15h0M617.71 360.99h0M629.52 365.8h0M632.47 368.82h0M635.42 355.37h0M641.32 344h0M647.23 351.22h0M653.13 355.23h0M664.93 361.32h0M667.88 364.81h0M670.84 366.42h0M676.74 367.69h0M682.64 368.82h0M688.54 369.48h0M700.35 366.13h0M701.83 351.74h0M703.3 348.67h0M704.78 342.44h0M706.25 330.59h0M712.16 308.31h0M718.06 327.66h0M723.96 339.84h0M735.77 353.15h0M747.57 365.33h0M759.38 370.43h0M771.18 375.57h0M806.6 379.73h0" fill="none" stroke="#0a0a80" stroke-width="3.1" stroke-linecap="round"/>
</g>
<g>
<path d="M36.7 464.3V606.3H249.9" fill="none" stroke="#3a3a3a" stroke-width="1.05"/>
<path d="M36.7 606.3v4.1M42.61 606.3v2.1M48.52 606.3v2.1M54.43 606.3v4.1M60.33 606.3v2.1M66.24 606.3v2.1M72.15 606.3v4.1M78.06 606.3v2.1M83.97 606.3v2.1M89.88 606.3v4.1M95.78 606.3v2.1M101.69 606.3v2.1M107.6 606.3v4.1M113.51 606.3v2.1M119.42 606.3v2.1M125.33 606.3v4.1M131.23 606.3v2.1M137.14 606.3v2.1M143.05 606.3v4.1M148.96 606.3v2.1M154.87 606.3v2.1M160.78 606.3v4.1M166.68 606.3v2.1M172.59 606.3v2.1M178.5 606.3v4.1M184.41 606.3v2.1M190.32 606.3v2.1M196.23 606.3v4.1M202.13 606.3v2.1M208.04 606.3v2.1M213.95 606.3v4.1M219.86 606.3v2.1M225.77 606.3v2.1M231.68 606.3v4.1M237.58 606.3v2.1M243.49 606.3v2.1M249.4 606.3v4.1M36.7 606.3h-4.4M36.7 599.22h-2.1M36.7 592.15h-4.4M36.7 585.07h-2.1M36.7 578h-4.4M36.7 570.92h-2.1M36.7 563.85h-4.4M36.7 556.77h-2.1M36.7 549.7h-4.4M36.7 542.62h-2.1M36.7 535.55h-4.4M36.7 528.48h-2.1M36.7 521.4h-4.4M36.7 514.33h-2.1M36.7 507.25h-4.4M36.7 500.18h-2.1M36.7 493.1h-4.4M36.7 486.02h-2.1M36.7 478.95h-4.4M36.7 471.88h-2.1M36.7 464.8h-4.4" fill="none" stroke="#3a3a3a" stroke-width="1"/>
<text class="tk" text-anchor="end" transform="translate(31.2 609.45) scale(.82 1)">0</text>
<text class="tk" text-anchor="end" transform="translate(31.2 595.3) scale(.82 1)">3</text>
<text class="tk" text-anchor="end" transform="translate(31.2 581.15) scale(.82 1)">6</text>
<text class="tk" text-anchor="end" transform="translate(31.2 567) scale(.82 1)">9</text>
<text class="tk" text-anchor="end" transform="translate(31.2 552.85) scale(.82 1)">12</text>
<text class="tk" text-anchor="end" transform="translate(31.2 538.7) scale(.82 1)">15</text>
<text class="tk" text-anchor="end" transform="translate(31.2 524.55) scale(.82 1)">18</text>
<text class="tk" text-anchor="end" transform="translate(31.2 510.4) scale(.82 1)">21</text>
<text class="tk" text-anchor="end" transform="translate(31.2 496.25) scale(.82 1)">24</text>
<text class="tk" text-anchor="end" transform="translate(31.2 482.1) scale(.82 1)">27</text>
<text class="tk" text-anchor="end" transform="translate(31.2 467.95) scale(.82 1)">30</text>
<text class="tk" text-anchor="middle" transform="translate(36.7 621) scale(.82 1)">0</text>
<text class="tk" text-anchor="middle" transform="translate(54.43 621) scale(.82 1)">3</text>
<text class="tk" text-anchor="middle" transform="translate(72.15 621) scale(.82 1)">6</text>
<text class="tk" text-anchor="middle" transform="translate(89.88 621) scale(.82 1)">9</text>
<text class="tk" text-anchor="middle" transform="translate(107.6 621) scale(.82 1)">12</text>
<text class="tk" text-anchor="middle" transform="translate(125.33 621) scale(.82 1)">15</text>
<text class="tk" text-anchor="middle" transform="translate(143.05 621) scale(.82 1)">18</text>
<text class="tk" text-anchor="middle" transform="translate(160.78 621) scale(.82 1)">21</text>
<text class="tk" text-anchor="middle" transform="translate(178.5 621) scale(.82 1)">24</text>
<text class="tk" text-anchor="middle" transform="translate(196.23 621) scale(.82 1)">27</text>
<text class="tk" text-anchor="middle" transform="translate(213.95 621) scale(.82 1)">30</text>
<text class="tk" text-anchor="middle" transform="translate(231.68 621) scale(.82 1)">33</text>
<text class="tk" text-anchor="middle" transform="translate(249.4 621) scale(.82 1)">36</text>
<text class="tm" text-anchor="middle" x="143.05" y="636.8" textLength="29.5" lengthAdjust="spacingAndGlyphs">Time (h)</text>
<text class="ti" text-anchor="middle" x="143.25" y="468.4">Subject 9078</text>
<text class="yl" text-anchor="middle" transform="translate(8.7 536.75) rotate(-90)" textLength="149.37" lengthAdjust="spacingAndGlyphs">Plasma paracetamol concentration (µg/mL)</text>
<path d="M68.9 491.68V501.77" stroke="#444" stroke-width="0.85" fill="none"/>
<path d="M66.1 499.57L71.7 499.57L68.9 505.77Z" fill="#000"/>
<path d="M105.59 491.68V501.77" stroke="#444" stroke-width="0.85" fill="none"/>
<path d="M102.79 499.57L108.39 499.57L105.59 505.77Z" fill="#000"/>
<path d="M38.65 644.5V654.3" stroke="#3030ff" stroke-width="1.35" fill="none"/>
<path d="M35.85 646.8L41.45 646.8L38.65 640.5Z" fill="#0000ff"/>
<path d="M73.45 644.5V654.3" stroke="#3030ff" stroke-width="1.35" fill="none"/>
<path d="M70.65 646.8L76.25 646.8L73.45 640.5Z" fill="#0000ff"/>
<path d="M108.78 644.5V654.3" stroke="#3030ff" stroke-width="1.35" fill="none"/>
<path d="M105.98 646.8L111.58 646.8L108.78 640.5Z" fill="#0000ff"/>
<path d="M144.05 644.5V654.3" stroke="#3030ff" stroke-width="1.35" fill="none"/>
<path d="M141.25 646.8L146.85 646.8L144.05 640.5Z" fill="#0000ff"/>
<polyline points="36.7,606.3 38.18,600.69 39.65,583.75 41.13,516.21 42.61,547.91 48.52,579.6 54.43,587.24 60.33,591.73 72.15,597.2 75.1,597.48 78.06,597.81 83.97,564.7 89.88,575.26 95.78,584.7 107.6,591.44 110.55,595.92 113.51,595.92 119.42,597.34 125.33,598 131.23,599.41 143.05,582.62 144.53,561.96 146,565.5 147.48,563.66 148.96,554.32 154.87,544.23 160.78,556.54 166.68,569.98 178.5,584.56 190.32,596.06 202.13,600.55 213.95,602.76 249.4,604.08" fill="none" stroke="#0f0f85" stroke-width="0.85" stroke-linejoin="round"/>
<path d="M36.7 606.3h0M38.18 600.69h0M39.65 583.75h0M41.13 516.21h0M42.61 547.91h0M48.52 579.6h0M54.43 587.24h0M60.33 591.73h0M72.15 597.2h0M75.1 597.48h0M78.06 597.81h0M83.97 564.7h0M89.88 575.26h0M95.78 584.7h0M107.6 591.44h0M110.55 595.92h0M113.51 595.92h0M119.42 597.34h0M125.33 598h0M131.23 599.41h0M143.05 582.62h0M144.53 561.96h0M146 565.5h0M147.48 563.66h0M148.96 554.32h0M154.87 544.23h0M160.78 556.54h0M166.68 569.98h0M178.5 584.56h0M190.32 596.06h0M202.13 600.55h0M213.95 602.76h0M249.4 604.08h0" fill="none" stroke="#0a0a80" stroke-width="3.1" stroke-linecap="round"/>
</g>
<g>
<path d="M313.3 465.3V607.45H526.4" fill="none" stroke="#3a3a3a" stroke-width="1.05"/>
<path d="M313.3 607.45v4.1M319.21 607.45v2.1M325.11 607.45v2.1M331.02 607.45v4.1M336.92 607.45v2.1M342.83 607.45v2.1M348.73 607.45v4.1M354.64 607.45v2.1M360.54 607.45v2.1M366.45 607.45v4.1M372.36 607.45v2.1M378.26 607.45v2.1M384.17 607.45v4.1M390.07 607.45v2.1M395.98 607.45v2.1M401.88 607.45v4.1M407.79 607.45v2.1M413.69 607.45v2.1M419.6 607.45v4.1M425.51 607.45v2.1M431.41 607.45v2.1M437.32 607.45v4.1M443.22 607.45v2.1M449.13 607.45v2.1M455.03 607.45v4.1M460.94 607.45v2.1M466.84 607.45v2.1M472.75 607.45v4.1M478.66 607.45v2.1M484.56 607.45v2.1M490.47 607.45v4.1M496.37 607.45v2.1M502.28 607.45v2.1M508.18 607.45v4.1M514.09 607.45v2.1M519.99 607.45v2.1M525.9 607.45v4.1M313.3 607.45h-4.4M313.3 600.37h-2.1M313.3 593.29h-4.4M313.3 586.2h-2.1M313.3 579.12h-4.4M313.3 572.04h-2.1M313.3 564.96h-4.4M313.3 557.87h-2.1M313.3 550.79h-4.4M313.3 543.71h-2.1M313.3 536.62h-4.4M313.3 529.54h-2.1M313.3 522.46h-4.4M313.3 515.38h-2.1M313.3 508.3h-4.4M313.3 501.21h-2.1M313.3 494.13h-4.4M313.3 487.05h-2.1M313.3 479.97h-4.4M313.3 472.88h-2.1M313.3 465.8h-4.4" fill="none" stroke="#3a3a3a" stroke-width="1"/>
<text class="tk" text-anchor="end" transform="translate(307.8 610.6) scale(.82 1)">0</text>
<text class="tk" text-anchor="end" transform="translate(307.8 596.44) scale(.82 1)">3</text>
<text class="tk" text-anchor="end" transform="translate(307.8 582.27) scale(.82 1)">6</text>
<text class="tk" text-anchor="end" transform="translate(307.8 568.11) scale(.82 1)">9</text>
<text class="tk" text-anchor="end" transform="translate(307.8 553.94) scale(.82 1)">12</text>
<text class="tk" text-anchor="end" transform="translate(307.8 539.77) scale(.82 1)">15</text>
<text class="tk" text-anchor="end" transform="translate(307.8 525.61) scale(.82 1)">18</text>
<text class="tk" text-anchor="end" transform="translate(307.8 511.44) scale(.82 1)">21</text>
<text class="tk" text-anchor="end" transform="translate(307.8 497.28) scale(.82 1)">24</text>
<text class="tk" text-anchor="end" transform="translate(307.8 483.12) scale(.82 1)">27</text>
<text class="tk" text-anchor="end" transform="translate(307.8 468.95) scale(.82 1)">30</text>
<text class="tk" text-anchor="middle" transform="translate(313.3 622.15) scale(.82 1)">0</text>
<text class="tk" text-anchor="middle" transform="translate(331.02 622.15) scale(.82 1)">3</text>
<text class="tk" text-anchor="middle" transform="translate(348.73 622.15) scale(.82 1)">6</text>
<text class="tk" text-anchor="middle" transform="translate(366.45 622.15) scale(.82 1)">9</text>
<text class="tk" text-anchor="middle" transform="translate(384.17 622.15) scale(.82 1)">12</text>
<text class="tk" text-anchor="middle" transform="translate(401.88 622.15) scale(.82 1)">15</text>
<text class="tk" text-anchor="middle" transform="translate(419.6 622.15) scale(.82 1)">18</text>
<text class="tk" text-anchor="middle" transform="translate(437.32 622.15) scale(.82 1)">21</text>
<text class="tk" text-anchor="middle" transform="translate(455.03 622.15) scale(.82 1)">24</text>
<text class="tk" text-anchor="middle" transform="translate(472.75 622.15) scale(.82 1)">27</text>
<text class="tk" text-anchor="middle" transform="translate(490.47 622.15) scale(.82 1)">30</text>
<text class="tk" text-anchor="middle" transform="translate(508.18 622.15) scale(.82 1)">33</text>
<text class="tk" text-anchor="middle" transform="translate(525.9 622.15) scale(.82 1)">36</text>
<text class="tm" text-anchor="middle" x="419.6" y="637.95" textLength="29.5" lengthAdjust="spacingAndGlyphs">Time (h)</text>
<text class="ti" text-anchor="middle" x="419.8" y="469.4">Subject 9080</text>
<text class="yl" text-anchor="middle" transform="translate(285.3 537.83) rotate(-90)" textLength="149.53" lengthAdjust="spacingAndGlyphs">Plasma paracetamol concentration (µg/mL)</text>
<path d="M345.49 492.71V502.81" stroke="#444" stroke-width="0.85" fill="none"/>
<path d="M342.69 500.61L348.29 500.61L345.49 506.81Z" fill="#000"/>
<path d="M382.16 492.71V502.81" stroke="#444" stroke-width="0.85" fill="none"/>
<path d="M379.36 500.61L384.96 500.61L382.16 506.81Z" fill="#000"/>
<path d="M315.25 645.65V655.45" stroke="#3030ff" stroke-width="1.35" fill="none"/>
<path d="M312.45 647.95L318.05 647.95L315.25 641.65Z" fill="#0000ff"/>
<path d="M350.03 645.65V655.45" stroke="#3030ff" stroke-width="1.35" fill="none"/>
<path d="M347.23 647.95L352.83 647.95L350.03 641.65Z" fill="#0000ff"/>
<path d="M385.35 645.65V655.45" stroke="#3030ff" stroke-width="1.35" fill="none"/>
<path d="M382.55 647.95L388.15 647.95L385.35 641.65Z" fill="#0000ff"/>
<path d="M420.6 645.65V655.45" stroke="#3030ff" stroke-width="1.35" fill="none"/>
<path d="M417.8 647.95L423.4 647.95L420.6 641.65Z" fill="#0000ff"/>
<polyline points="313.3,607.45 314.78,606.65 316.25,592.91 317.73,531.34 319.21,540.12 325.11,575.3 331.02,581.39 336.92,588.09 348.73,594.51 351.69,596.26 354.64,593.05 360.54,580.44 366.45,583.13 372.36,582 384.17,585.73 387.12,589.84 390.07,591.44 395.98,592.25 401.88,593.52 407.79,593.71 419.6,584.88 421.08,582.66 422.55,581.53 424.03,579.92 425.51,579.45 431.41,576.43 437.32,565.71 443.22,548.76 455.03,568.59 466.84,584.74 478.66,593.71 490.47,598.48 525.9,604.24" fill="none" stroke="#0f0f85" stroke-width="0.85" stroke-linejoin="round"/>
<path d="M313.3 607.45h0M314.78 606.65h0M316.25 592.91h0M317.73 531.34h0M319.21 540.12h0M325.11 575.3h0M331.02 581.39h0M336.92 588.09h0M348.73 594.51h0M351.69 596.26h0M354.64 593.05h0M360.54 580.44h0M366.45 583.13h0M372.36 582h0M384.17 585.73h0M387.12 589.84h0M390.07 591.44h0M395.98 592.25h0M401.88 593.52h0M407.79 593.71h0M419.6 584.88h0M421.08 582.66h0M422.55 581.53h0M424.03 579.92h0M425.51 579.45h0M431.41 576.43h0M437.32 565.71h0M443.22 548.76h0M455.03 568.59h0M466.84 584.74h0M478.66 593.71h0M490.47 598.48h0M525.9 604.24h0" fill="none" stroke="#0a0a80" stroke-width="3.1" stroke-linecap="round"/>
</g>
<g>
<path d="M595.35 465.5V607.6H808.5" fill="none" stroke="#3a3a3a" stroke-width="1.05"/>
<path d="M595.35 607.6v4.1M601.26 607.6v2.1M607.16 607.6v2.1M613.07 607.6v4.1M618.98 607.6v2.1M624.88 607.6v2.1M630.79 607.6v4.1M636.7 607.6v2.1M642.61 607.6v2.1M648.51 607.6v4.1M654.42 607.6v2.1M660.33 607.6v2.1M666.23 607.6v4.1M672.14 607.6v2.1M678.05 607.6v2.1M683.95 607.6v4.1M689.86 607.6v2.1M695.77 607.6v2.1M701.67 607.6v4.1M707.58 607.6v2.1M713.49 607.6v2.1M719.4 607.6v4.1M725.3 607.6v2.1M731.21 607.6v2.1M737.12 607.6v4.1M743.02 607.6v2.1M748.93 607.6v2.1M754.84 607.6v4.1M760.74 607.6v2.1M766.65 607.6v2.1M772.56 607.6v4.1M778.47 607.6v2.1M784.37 607.6v2.1M790.28 607.6v4.1M796.19 607.6v2.1M802.09 607.6v2.1M808 607.6v4.1M595.35 607.6h-4.4M595.35 600.52h-2.1M595.35 593.44h-4.4M595.35 586.36h-2.1M595.35 579.28h-4.4M595.35 572.2h-2.1M595.35 565.12h-4.4M595.35 558.04h-2.1M595.35 550.96h-4.4M595.35 543.88h-2.1M595.35 536.8h-4.4M595.35 529.72h-2.1M595.35 522.64h-4.4M595.35 515.56h-2.1M595.35 508.48h-4.4M595.35 501.4h-2.1M595.35 494.32h-4.4M595.35 487.24h-2.1M595.35 480.16h-4.4M595.35 473.08h-2.1M595.35 466h-4.4" fill="none" stroke="#3a3a3a" stroke-width="1"/>
<text class="tk" text-anchor="end" transform="translate(589.85 610.75) scale(.82 1)">0</text>
<text class="tk" text-anchor="end" transform="translate(589.85 596.59) scale(.82 1)">3</text>
<text class="tk" text-anchor="end" transform="translate(589.85 582.43) scale(.82 1)">6</text>
<text class="tk" text-anchor="end" transform="translate(589.85 568.27) scale(.82 1)">9</text>
<text class="tk" text-anchor="end" transform="translate(589.85 554.11) scale(.82 1)">12</text>
<text class="tk" text-anchor="end" transform="translate(589.85 539.95) scale(.82 1)">15</text>
<text class="tk" text-anchor="end" transform="translate(589.85 525.79) scale(.82 1)">18</text>
<text class="tk" text-anchor="end" transform="translate(589.85 511.63) scale(.82 1)">21</text>
<text class="tk" text-anchor="end" transform="translate(589.85 497.47) scale(.82 1)">24</text>
<text class="tk" text-anchor="end" transform="translate(589.85 483.31) scale(.82 1)">27</text>
<text class="tk" text-anchor="end" transform="translate(589.85 469.15) scale(.82 1)">30</text>
<text class="tk" text-anchor="middle" transform="translate(595.35 622.3) scale(.82 1)">0</text>
<text class="tk" text-anchor="middle" transform="translate(613.07 622.3) scale(.82 1)">3</text>
<text class="tk" text-anchor="middle" transform="translate(630.79 622.3) scale(.82 1)">6</text>
<text class="tk" text-anchor="middle" transform="translate(648.51 622.3) scale(.82 1)">9</text>
<text class="tk" text-anchor="middle" transform="translate(666.23 622.3) scale(.82 1)">12</text>
<text class="tk" text-anchor="middle" transform="translate(683.95 622.3) scale(.82 1)">15</text>
<text class="tk" text-anchor="middle" transform="translate(701.67 622.3) scale(.82 1)">18</text>
<text class="tk" text-anchor="middle" transform="translate(719.4 622.3) scale(.82 1)">21</text>
<text class="tk" text-anchor="middle" transform="translate(737.12 622.3) scale(.82 1)">24</text>
<text class="tk" text-anchor="middle" transform="translate(754.84 622.3) scale(.82 1)">27</text>
<text class="tk" text-anchor="middle" transform="translate(772.56 622.3) scale(.82 1)">30</text>
<text class="tk" text-anchor="middle" transform="translate(790.28 622.3) scale(.82 1)">33</text>
<text class="tk" text-anchor="middle" transform="translate(808 622.3) scale(.82 1)">36</text>
<text class="tm" text-anchor="middle" x="701.67" y="638.1" textLength="29.5" lengthAdjust="spacingAndGlyphs">Time (h)</text>
<text class="ti" text-anchor="middle" x="701.88" y="469.6">Subject 9084</text>
<text class="yl" text-anchor="middle" transform="translate(567.35 538) rotate(-90)" textLength="149.48" lengthAdjust="spacingAndGlyphs">Plasma paracetamol concentration (µg/mL)</text>
<path d="M627.54 492.9V503" stroke="#444" stroke-width="0.85" fill="none"/>
<path d="M624.74 500.8L630.34 500.8L627.54 507Z" fill="#000"/>
<path d="M664.22 492.9V503" stroke="#444" stroke-width="0.85" fill="none"/>
<path d="M661.42 500.8L667.02 500.8L664.22 507Z" fill="#000"/>
<path d="M597.3 645.8V655.6" stroke="#3030ff" stroke-width="1.35" fill="none"/>
<path d="M594.5 648.1L600.1 648.1L597.3 641.8Z" fill="#0000ff"/>
<path d="M632.09 645.8V655.6" stroke="#3030ff" stroke-width="1.35" fill="none"/>
<path d="M629.29 648.1L634.89 648.1L632.09 641.8Z" fill="#0000ff"/>
<path d="M667.41 645.8V655.6" stroke="#3030ff" stroke-width="1.35" fill="none"/>
<path d="M664.61 648.1L670.21 648.1L667.41 641.8Z" fill="#0000ff"/>
<path d="M702.68 645.8V655.6" stroke="#3030ff" stroke-width="1.35" fill="none"/>
<path d="M699.88 648.1L705.48 648.1L702.68 641.8Z" fill="#0000ff"/>
<polyline points="595.35,607.6 596.83,607.6 598.3,568.42 599.78,545.06 601.26,553.56 607.16,571.44 613.07,582.02 618.98,590.18 630.79,597.83 633.75,578.67 636.7,580.08 642.61,568.28 648.51,580.74 654.42,586.83 666.23,595.14 669.19,561.25 672.14,570.83 678.05,567.29 683.95,579.61 689.86,586.97 701.67,594.34 703.15,595.47 704.63,592.26 706.11,591.6 707.58,591.46 713.49,562.34 719.4,570.83 725.3,573.38 737.12,586.83 748.93,595.94 760.74,598.63 772.56,602.5 808,605.66" fill="none" stroke="#0f0f85" stroke-width="0.85" stroke-linejoin="round"/>
<path d="M595.35 607.6h0M596.83 607.6h0M598.3 568.42h0M599.78 545.06h0M601.26 553.56h0M607.16 571.44h0M613.07 582.02h0M618.98 590.18h0M630.79 597.83h0M633.75 578.67h0M636.7 580.08h0M642.61 568.28h0M648.51 580.74h0M654.42 586.83h0M666.23 595.14h0M669.19 561.25h0M672.14 570.83h0M678.05 567.29h0M683.95 579.61h0M689.86 586.97h0M701.67 594.34h0M703.15 595.47h0M704.63 592.26h0M706.11 591.6h0M707.58 591.46h0M713.49 562.34h0M719.4 570.83h0M725.3 573.38h0M737.12 586.83h0M748.93 595.94h0M760.74 598.63h0M772.56 602.5h0M808 605.66h0" fill="none" stroke="#0a0a80" stroke-width="3.1" stroke-linecap="round"/>
</g>
<g>
<path d="M35.4 684.6V826.8H248.6" fill="none" stroke="#3a3a3a" stroke-width="1.05"/>
<path d="M35.4 826.8v4.1M41.31 826.8v2.1M47.22 826.8v2.1M53.12 826.8v4.1M59.03 826.8v2.1M64.94 826.8v2.1M70.85 826.8v4.1M76.76 826.8v2.1M82.67 826.8v2.1M88.57 826.8v4.1M94.48 826.8v2.1M100.39 826.8v2.1M106.3 826.8v4.1M112.21 826.8v2.1M118.12 826.8v2.1M124.03 826.8v4.1M129.93 826.8v2.1M135.84 826.8v2.1M141.75 826.8v4.1M147.66 826.8v2.1M153.57 826.8v2.1M159.47 826.8v4.1M165.38 826.8v2.1M171.29 826.8v2.1M177.2 826.8v4.1M183.11 826.8v2.1M189.02 826.8v2.1M194.93 826.8v4.1M200.83 826.8v2.1M206.74 826.8v2.1M212.65 826.8v4.1M218.56 826.8v2.1M224.47 826.8v2.1M230.38 826.8v4.1M236.28 826.8v2.1M242.19 826.8v2.1M248.1 826.8v4.1M35.4 826.8h-4.4M35.4 819.71h-2.1M35.4 812.63h-4.4M35.4 805.54h-2.1M35.4 798.46h-4.4M35.4 791.38h-2.1M35.4 784.29h-4.4M35.4 777.2h-2.1M35.4 770.12h-4.4M35.4 763.03h-2.1M35.4 755.95h-4.4M35.4 748.87h-2.1M35.4 741.78h-4.4M35.4 734.7h-2.1M35.4 727.61h-4.4M35.4 720.52h-2.1M35.4 713.44h-4.4M35.4 706.36h-2.1M35.4 699.27h-4.4M35.4 692.19h-2.1M35.4 685.1h-4.4" fill="none" stroke="#3a3a3a" stroke-width="1"/>
<text class="tk" text-anchor="end" transform="translate(29.9 829.95) scale(.82 1)">0</text>
<text class="tk" text-anchor="end" transform="translate(29.9 815.78) scale(.82 1)">3</text>
<text class="tk" text-anchor="end" transform="translate(29.9 801.61) scale(.82 1)">6</text>
<text class="tk" text-anchor="end" transform="translate(29.9 787.44) scale(.82 1)">9</text>
<text class="tk" text-anchor="end" transform="translate(29.9 773.27) scale(.82 1)">12</text>
<text class="tk" text-anchor="end" transform="translate(29.9 759.1) scale(.82 1)">15</text>
<text class="tk" text-anchor="end" transform="translate(29.9 744.93) scale(.82 1)">18</text>
<text class="tk" text-anchor="end" transform="translate(29.9 730.76) scale(.82 1)">21</text>
<text class="tk" text-anchor="end" transform="translate(29.9 716.59) scale(.82 1)">24</text>
<text class="tk" text-anchor="end" transform="translate(29.9 702.42) scale(.82 1)">27</text>
<text class="tk" text-anchor="end" transform="translate(29.9 688.25) scale(.82 1)">30</text>
<text class="tk" text-anchor="middle" transform="translate(35.4 841.5) scale(.82 1)">0</text>
<text class="tk" text-anchor="middle" transform="translate(53.12 841.5) scale(.82 1)">3</text>
<text class="tk" text-anchor="middle" transform="translate(70.85 841.5) scale(.82 1)">6</text>
<text class="tk" text-anchor="middle" transform="translate(88.57 841.5) scale(.82 1)">9</text>
<text class="tk" text-anchor="middle" transform="translate(106.3 841.5) scale(.82 1)">12</text>
<text class="tk" text-anchor="middle" transform="translate(124.03 841.5) scale(.82 1)">15</text>
<text class="tk" text-anchor="middle" transform="translate(141.75 841.5) scale(.82 1)">18</text>
<text class="tk" text-anchor="middle" transform="translate(159.47 841.5) scale(.82 1)">21</text>
<text class="tk" text-anchor="middle" transform="translate(177.2 841.5) scale(.82 1)">24</text>
<text class="tk" text-anchor="middle" transform="translate(194.93 841.5) scale(.82 1)">27</text>
<text class="tk" text-anchor="middle" transform="translate(212.65 841.5) scale(.82 1)">30</text>
<text class="tk" text-anchor="middle" transform="translate(230.38 841.5) scale(.82 1)">33</text>
<text class="tk" text-anchor="middle" transform="translate(248.1 841.5) scale(.82 1)">36</text>
<text class="tm tb" text-anchor="middle" x="141.75" y="857.3" textLength="29.5" lengthAdjust="spacingAndGlyphs">Time (h)</text>
<text class="ti" text-anchor="middle" x="141.95" y="688.7">Subject 9098</text>
<text class="yl" text-anchor="middle" transform="translate(7.4 757.15) rotate(-90)" textLength="149.58" lengthAdjust="spacingAndGlyphs">Plasma paracetamol concentration (µg/mL)</text>
<path d="M67.6 712.02V722.13" stroke="#444" stroke-width="0.85" fill="none"/>
<path d="M64.8 719.93L70.4 719.93L67.6 726.13Z" fill="#000"/>
<path d="M104.29 712.02V722.13" stroke="#444" stroke-width="0.85" fill="none"/>
<path d="M101.49 719.93L107.09 719.93L104.29 726.13Z" fill="#000"/>
<path d="M37.35 865V874.8" stroke="#3030ff" stroke-width="1.35" fill="none"/>
<path d="M34.55 867.3L40.15 867.3L37.35 861Z" fill="#0000ff"/>
<path d="M72.15 865V874.8" stroke="#3030ff" stroke-width="1.35" fill="none"/>
<path d="M69.35 867.3L74.95 867.3L72.15 861Z" fill="#0000ff"/>
<path d="M107.48 865V874.8" stroke="#3030ff" stroke-width="1.35" fill="none"/>
<path d="M104.68 867.3L110.28 867.3L107.48 861Z" fill="#0000ff"/>
<path d="M142.75 865V874.8" stroke="#3030ff" stroke-width="1.35" fill="none"/>
<path d="M139.95 867.3L145.55 867.3L142.75 861Z" fill="#0000ff"/>
<polyline points="35.4,826.8 36.88,825.52 38.35,824.06 39.83,822.79 41.31,821.37 47.22,789.67 53.12,799.92 59.03,805.07 70.85,815.13 73.8,809.51 76.76,812.39 82.67,793.83 88.57,801.06 94.48,804.88 106.3,811.59 109.25,812.39 112.21,812.58 118.12,811.92 124.03,810.46 129.93,811.78 141.75,814 143.23,813.53 144.7,811.59 146.18,811.59 147.66,811.26 153.57,807.91 159.47,782.5 165.38,783.11 177.2,796.24 189.02,809.98 200.83,816.88 212.65,819.9 248.1,824.39" fill="none" stroke="#0f0f85" stroke-width="0.85" stroke-linejoin="round"/>
<path d="M35.4 826.8h0M36.88 825.52h0M38.35 824.06h0M39.83 822.79h0M41.31 821.37h0M47.22 789.67h0M53.12 799.92h0M59.03 805.07h0M70.85 815.13h0M73.8 809.51h0M76.76 812.39h0M82.67 793.83h0M88.57 801.06h0M94.48 804.88h0M106.3 811.59h0M109.25 812.39h0M112.21 812.58h0M118.12 811.92h0M124.03 810.46h0M129.93 811.78h0M141.75 814h0M143.23 813.53h0M144.7 811.59h0M146.18 811.59h0M147.66 811.26h0M153.57 807.91h0M159.47 782.5h0M165.38 783.11h0M177.2 796.24h0M189.02 809.98h0M200.83 816.88h0M212.65 819.9h0M248.1 824.39h0" fill="none" stroke="#0a0a80" stroke-width="3.1" stroke-linecap="round"/>
</g>
<g>
<path d="M312.8 683.9V826.2H525.9" fill="none" stroke="#3a3a3a" stroke-width="1.05"/>
<path d="M312.8 826.2v4.1M318.71 826.2v2.1M324.61 826.2v2.1M330.52 826.2v4.1M336.42 826.2v2.1M342.33 826.2v2.1M348.23 826.2v4.1M354.14 826.2v2.1M360.04 826.2v2.1M365.95 826.2v4.1M371.86 826.2v2.1M377.76 826.2v2.1M383.67 826.2v4.1M389.57 826.2v2.1M395.48 826.2v2.1M401.38 826.2v4.1M407.29 826.2v2.1M413.19 826.2v2.1M419.1 826.2v4.1M425.01 826.2v2.1M430.91 826.2v2.1M436.82 826.2v4.1M442.72 826.2v2.1M448.63 826.2v2.1M454.53 826.2v4.1M460.44 826.2v2.1M466.34 826.2v2.1M472.25 826.2v4.1M478.16 826.2v2.1M484.06 826.2v2.1M489.97 826.2v4.1M495.87 826.2v2.1M501.78 826.2v2.1M507.68 826.2v4.1M513.59 826.2v2.1M519.49 826.2v2.1M525.4 826.2v4.1M312.8 826.2h-4.4M312.8 819.11h-2.1M312.8 812.02h-4.4M312.8 804.93h-2.1M312.8 797.84h-4.4M312.8 790.75h-2.1M312.8 783.66h-4.4M312.8 776.57h-2.1M312.8 769.48h-4.4M312.8 762.39h-2.1M312.8 755.3h-4.4M312.8 748.21h-2.1M312.8 741.12h-4.4M312.8 734.03h-2.1M312.8 726.94h-4.4M312.8 719.85h-2.1M312.8 712.76h-4.4M312.8 705.67h-2.1M312.8 698.58h-4.4M312.8 691.49h-2.1M312.8 684.4h-4.4" fill="none" stroke="#3a3a3a" stroke-width="1"/>
<text class="tk" text-anchor="end" transform="translate(307.3 829.35) scale(.82 1)">0</text>
<text class="tk" text-anchor="end" transform="translate(307.3 815.17) scale(.82 1)">3</text>
<text class="tk" text-anchor="end" transform="translate(307.3 800.99) scale(.82 1)">6</text>
<text class="tk" text-anchor="end" transform="translate(307.3 786.81) scale(.82 1)">9</text>
<text class="tk" text-anchor="end" transform="translate(307.3 772.63) scale(.82 1)">12</text>
<text class="tk" text-anchor="end" transform="translate(307.3 758.45) scale(.82 1)">15</text>
<text class="tk" text-anchor="end" transform="translate(307.3 744.27) scale(.82 1)">18</text>
<text class="tk" text-anchor="end" transform="translate(307.3 730.09) scale(.82 1)">21</text>
<text class="tk" text-anchor="end" transform="translate(307.3 715.91) scale(.82 1)">24</text>
<text class="tk" text-anchor="end" transform="translate(307.3 701.73) scale(.82 1)">27</text>
<text class="tk" text-anchor="end" transform="translate(307.3 687.55) scale(.82 1)">30</text>
<text class="tk" text-anchor="middle" transform="translate(312.8 840.9) scale(.82 1)">0</text>
<text class="tk" text-anchor="middle" transform="translate(330.52 840.9) scale(.82 1)">3</text>
<text class="tk" text-anchor="middle" transform="translate(348.23 840.9) scale(.82 1)">6</text>
<text class="tk" text-anchor="middle" transform="translate(365.95 840.9) scale(.82 1)">9</text>
<text class="tk" text-anchor="middle" transform="translate(383.67 840.9) scale(.82 1)">12</text>
<text class="tk" text-anchor="middle" transform="translate(401.38 840.9) scale(.82 1)">15</text>
<text class="tk" text-anchor="middle" transform="translate(419.1 840.9) scale(.82 1)">18</text>
<text class="tk" text-anchor="middle" transform="translate(436.82 840.9) scale(.82 1)">21</text>
<text class="tk" text-anchor="middle" transform="translate(454.53 840.9) scale(.82 1)">24</text>
<text class="tk" text-anchor="middle" transform="translate(472.25 840.9) scale(.82 1)">27</text>
<text class="tk" text-anchor="middle" transform="translate(489.97 840.9) scale(.82 1)">30</text>
<text class="tk" text-anchor="middle" transform="translate(507.68 840.9) scale(.82 1)">33</text>
<text class="tk" text-anchor="middle" transform="translate(525.4 840.9) scale(.82 1)">36</text>
<text class="tm" text-anchor="middle" x="419.1" y="856.7" textLength="29.5" lengthAdjust="spacingAndGlyphs">Time (h)</text>
<text class="ti" text-anchor="middle" x="419.3" y="688">Subject 9112</text>
<text class="yl" text-anchor="middle" transform="translate(284.8 756.5) rotate(-90)" textLength="149.69" lengthAdjust="spacingAndGlyphs">Plasma paracetamol concentration (µg/mL)</text>
<path d="M344.99 711.34V721.46" stroke="#444" stroke-width="0.85" fill="none"/>
<path d="M342.19 719.26L347.79 719.26L344.99 725.46Z" fill="#000"/>
<path d="M381.66 711.34V721.46" stroke="#444" stroke-width="0.85" fill="none"/>
<path d="M378.86 719.26L384.46 719.26L381.66 725.46Z" fill="#000"/>
<path d="M314.75 864.4V874.2" stroke="#3030ff" stroke-width="1.35" fill="none"/>
<path d="M311.95 866.7L317.55 866.7L314.75 860.4Z" fill="#0000ff"/>
<path d="M349.53 864.4V874.2" stroke="#3030ff" stroke-width="1.35" fill="none"/>
<path d="M346.73 866.7L352.33 866.7L349.53 860.4Z" fill="#0000ff"/>
<path d="M384.85 864.4V874.2" stroke="#3030ff" stroke-width="1.35" fill="none"/>
<path d="M382.05 866.7L387.65 866.7L384.85 860.4Z" fill="#0000ff"/>
<path d="M420.1 864.4V874.2" stroke="#3030ff" stroke-width="1.35" fill="none"/>
<path d="M417.3 866.7L422.9 866.7L420.1 860.4Z" fill="#0000ff"/>
<polyline points="312.8,826.2 314.28,792.64 315.75,794.86 317.23,787.54 318.71,790.09 324.61,782.38 330.52,795.52 336.42,803.18 348.23,812.11 351.19,778.93 354.14,790.28 360.04,783.52 365.95,793.44 371.86,799.02 383.67,806.68 386.62,807.67 389.57,787.68 395.48,775.67 401.38,790.89 407.29,799.02 419.1,803.98 420.58,807.2 422.05,808.95 423.53,808.76 425.01,809.89 430.91,805.4 436.82,796.14 442.72,776.95 454.53,791.84 466.34,804.46 478.16,812.11 489.97,815.99 525.4,821.43" fill="none" stroke="#0f0f85" stroke-width="0.85" stroke-linejoin="round"/>
<path d="M312.8 826.2h0M314.28 792.64h0M315.75 794.86h0M317.23 787.54h0M318.71 790.09h0M324.61 782.38h0M330.52 795.52h0M336.42 803.18h0M348.23 812.11h0M351.19 778.93h0M354.14 790.28h0M360.04 783.52h0M365.95 793.44h0M371.86 799.02h0M383.67 806.68h0M386.62 807.67h0M389.57 787.68h0M395.48 775.67h0M401.38 790.89h0M407.29 799.02h0M419.1 803.98h0M420.58 807.2h0M422.05 808.95h0M423.53 808.76h0M425.01 809.89h0M430.91 805.4h0M436.82 796.14h0M442.72 776.95h0M454.53 791.84h0M466.34 804.46h0M478.16 812.11h0M489.97 815.99h0M525.4 821.43h0" fill="none" stroke="#0a0a80" stroke-width="3.1" stroke-linecap="round"/>
</g>
</svg>
</body></html>
